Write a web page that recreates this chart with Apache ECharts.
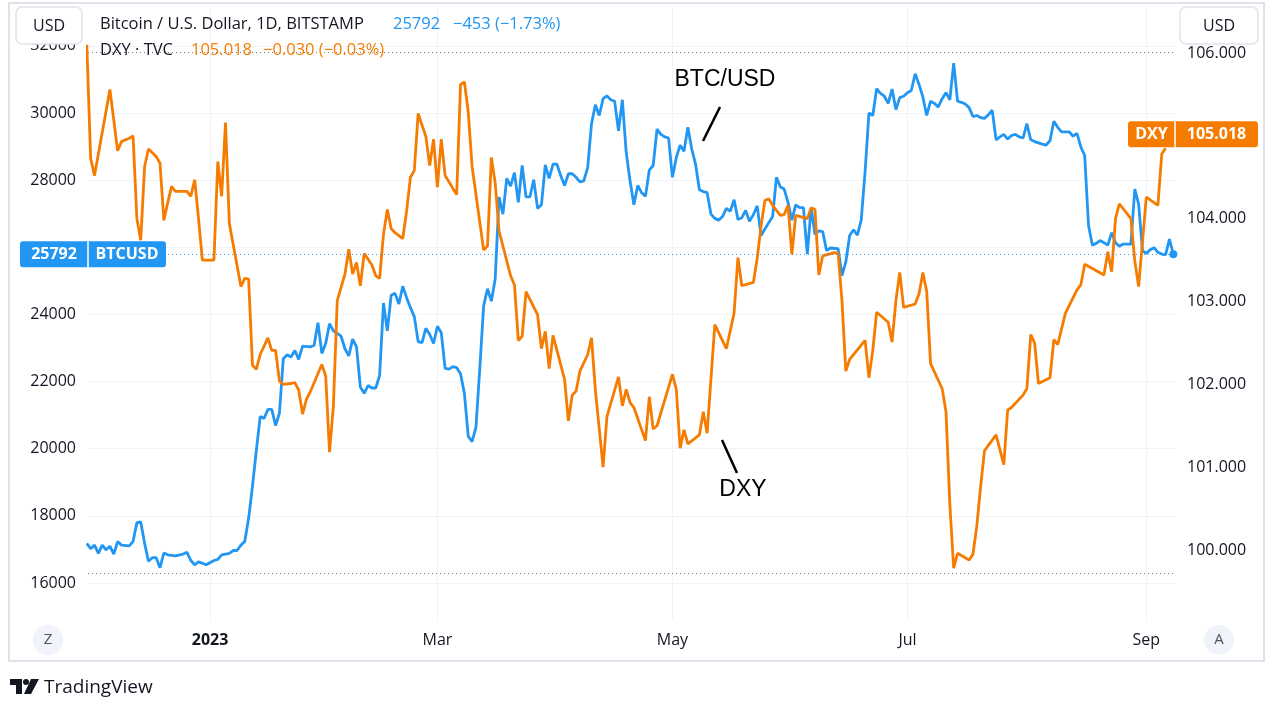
<!DOCTYPE html>
<html>
<head>
<meta charset="utf-8">
<script src="https://cdn.jsdelivr.net/npm/echarts@6/dist/echarts.min.js"></script>
<style>
html,body{margin:0;padding:0;background:#ffffff;}
#chart{width:1279px;height:714px;}
</style>
</head>
<body>
<div id="chart"></div>
<script>
// ---------- DATA ----------
// dates are given as day offsets from this day (negative = December 2022)
const DAY_ZERO = '2023-01-01';

const btcDay = [
  -32,-31,-30,-29,-28,-27,-26,-25,-24,-23,-21,-20,-19,-18,-17,-16,-15,-14,-13,-12,-11,-9,-7,-6,-5,-4,-3,-1,
  1,2,3,5,6,7,8,9,10,11,12,13,14,15,
  16,17,18,19,20,21,22,23,24,26,27,28,29,30,31,32,33,34,35,36,37,38,39,40,41,42,43,44,45,46,47,48,49,50,
  51,52,53,54,55,56,57,58,59,60,61,62,
  63,64,65,66,67,68,69,70,71,72,73,74,75,76,77,78,79,80,81,82,83,84,85,86,87,88,89,90,91,92,93,94,95,96,
  97,98,99,100,101,102,103,104,105,106,107,108,109,
  110,111,112,113,114,115,116,117,118,119,120,121,122,123,124,125,126,127,128,129,130,131,132,133,134,135,
  136,137,138,139,140,141,142,143,144,145,146,147,148,149,150,151,152,153,154,155,156,
  157,158,159,160,161,163,164,165,166,167,168,169,170,171,172,173,174,175,176,177,178,179,180,181,182,183,
  184,185,186,187,188,189,190,191,192,193,194,195,196,197,198,199,200,201,202,
  203,204,205,206,207,208,209,210,211,212,213,214,216,217,218,219,220,221,223,224,225,226,227,228,229,230,
  231,232,233,234,235,236,237,239,240,241,242,243,244,245,246,247,248,249,250
];
const btcClose = [
  17181,17021,17128,16883,17128,16990,17096,16862,17234,17128,17106,17234,17798,17819,17181,16649,16755,16755,16457,16894,16841,16809,16862,16915,16670,16543,16628,16543,
  16670,16702,16841,16883,16968,16968,17128,17234,17926,18883,19947,20957,20904,21170,
  21170,20691,21064,22681,22798,22734,22926,22660,23053,23032,23085,23755,22840,23138,23723,23511,23436,23351,22979,22766,23266,23032,21840,21649,21883,21809,21809,22181,24340,23511,24574,24628,24309,24840,
  24500,24202,23936,23192,23160,23585,23404,23138,23649,23457,22394,22372,
  22447,22415,22234,21649,20372,20213,20638,22394,24255,24766,24394,25053,27500,26989,28053,27819,28223,27340,28436,27500,27500,28011,27160,27266,28457,28053,28479,28479,28138,27840,28191,28191,28085,27947,
  27979,28372,29681,30245,29926,30426,30511,30394,30351,29468,30394,28830,27979,
  27266,27840,27628,27521,28298,28436,29521,29362,29287,29255,28085,28670,29043,28862,29574,28936,28479,27713,27660,27628,26989,26862,26809,26915,27160,27075,
  27415,26830,26883,27096,26777,26968,27234,26351,26543,26734,26915,28085,27798,27734,27340,26809,27266,27181,27181,25798,27181,
  26383,26490,26468,25904,25979,25957,25160,25564,26351,26521,26362,26809,28245,30000,29926,30723,30585,30500,30287,30713,30106,30458,30500,30606,30670,31170,
  30851,30479,29926,30351,30287,30181,30426,30606,30394,31489,30351,30319,30266,30160,29894,29926,29862,29840,29947,
  30085,29202,29287,29362,29223,29330,29362,29287,29255,29681,29202,29149,29075,29043,29181,29755,29574,29436,29436,29309,29394,28989,28734,26649,26064,26117,
  26202,26138,26064,26436,26138,26032,26096,26096,27734,27287,25904,25819,25926,25989,25851,25798,25777,26245,25792
];

const dxyDay = [
  -32,-31,-30,-26,-25,-24,-23,-21,-20,-19,-18,-17,-16,-14,-13,-12,-11,-10,-9,-6,-5,-4,-3,-2,
  1,2,3,4,5,8,9,10,11,12,13,15,16,17,18,19,21,22,23,24,25,26,27,29,30,
  31,32,33,35,36,37,38,39,40,42,43,44,45,46,47,48,50,51,52,53,54,56,57,58,
  59,60,61,64,65,66,67,68,71,72,73,74,75,78,79,80,81,82,85,86,87,88,89,
  92,93,94,95,96,98,99,100,102,103,106,107,108,109,110,113,114,115,116,
  120,121,122,123,124,127,128,129,131,134,136,137,138,141,142,143,144,145,146,148,149,150,
  151,152,155,156,157,158,159,162,163,164,165,166,170,171,172,173,176,177,178,179,180,
  183,184,185,186,187,190,191,192,193,194,197,198,199,200,201,204,206,207,208,211,
  212,213,214,215,218,219,220,222,225,226,227,232,233,234,235,236,239,240,241,
  243,246,247,248
];
const dxyClose = [
  106.10,104.73,104.52,105.56,105.19,104.82,104.93,104.97,105.00,104.00,103.74,104.63,104.84,104.75,104.67,103.98,104.19,104.39,104.33,104.33,104.27,104.47,104.00,103.50,
  103.50,104.69,104.27,105.16,103.94,103.18,103.28,103.27,102.23,102.18,102.36,102.56,102.41,102.41,102.04,102.00,102.01,102.02,101.93,101.64,101.82,101.91,102.02,102.24,102.10,
  101.18,101.74,103.01,103.33,103.63,103.33,103.47,103.19,103.58,103.44,103.31,103.28,103.81,104.11,103.88,103.83,103.76,104.09,104.50,104.58,105.27,104.99,104.64,104.96,
  104.38,104.96,104.52,104.29,105.62,105.65,105.29,104.63,103.62,103.67,104.74,104.43,103.85,103.31,103.20,102.53,102.58,103.12,102.84,102.43,102.64,102.19,102.59,
  102.06,101.56,101.87,101.92,102.16,102.36,102.56,101.93,101.00,101.61,102.09,101.74,101.94,101.78,101.72,101.32,101.85,101.46,101.50,
  102.12,101.94,101.23,101.45,101.28,101.39,101.67,101.41,102.72,102.43,102.86,103.53,103.19,103.23,103.52,103.91,104.22,104.24,104.16,104.04,104.05,104.16,
  103.57,104.04,104.00,104.13,104.11,103.32,103.55,103.59,103.58,103.01,102.16,102.30,102.53,102.08,102.41,102.87,102.75,102.51,103.01,103.35,102.93,
  102.97,103.09,103.35,103.12,102.25,101.95,101.67,100.55,99.78,99.96,99.88,99.95,100.29,100.77,101.20,101.39,101.03,101.69,101.72,101.87,
  101.95,102.60,102.50,102.01,102.08,102.54,102.48,102.86,103.14,103.20,103.45,103.32,103.60,103.36,104.00,104.18,104.00,103.49,103.18,
  104.26,104.16,104.78,104.85
];

const timeTickDates  = ['2023-01-01','2023-03-01','2023-05-01','2023-07-01','2023-09-01'];
const timeTickLabels = ['2023','Mar','May','Jul','Sep'];
const btcTicks = [16000,18000,20000,22000,24000,26000,28000,30000,32000];
const dxyTicks = [100,101,102,103,104,105,106];
// tick labels that sit under the price tags are hidden, as in the picture
const btcHiddenLabels = [26000];
const dxyHiddenLabels = [105];

const btcTitle = 'Bitcoin / U.S. Dollar, 1D, BITSTAMP';
const dxyTitle = 'DXY \u00b7 TVC';
const btcLast = 25792, btcChange = '\u2212453 (\u22121.73%)';
const dxyLast = 105.018, dxyChange = '\u22120.030 (\u22120.03%)';
const rangeHigh = 31800, rangeLow = 16290;   // dotted high / low lines (BTC scale)

// ---------- BUILD ----------
const DAYMS = 86400000;
const t0 = Date.parse(DAY_ZERO + 'T00:00:00Z');
const ts = d => t0 + d * DAYMS;
const btcData = btcDay.map((d, i) => [ts(d), btcClose[i]]);
const dxyData = dxyDay.map((d, i) => [ts(d), dxyClose[i]]);
const tickTs = timeTickDates.map(s => Date.parse(s + 'T00:00:00Z'));
const btcLabelVals = btcTicks.filter(v => btcHiddenLabels.indexOf(v) < 0);
const dxyLabelVals = dxyTicks.filter(v => dxyHiddenLabels.indexOf(v) < 0);

const BLUE = '#2196f3', ORANGE = '#f57c00', TXT = '#131722', GRID = '#f0f3fa';
const FONT = '"Open Sans", "Noto Sans", sans-serif';

const chart = echarts.init(document.getElementById('chart'), null, {renderer: 'canvas'});

function tickLabel(v) {
  let idx = 0, best = Infinity;
  tickTs.forEach((t, i) => { const dd = Math.abs(t - v); if (dd < best) { best = dd; idx = i; } });
  return idx === 0 ? '{y|' + timeTickLabels[idx] + '}' : timeTickLabels[idx];
}

chart.setOption({
  animation: false,
  backgroundColor: '#ffffff',
  textStyle: {fontFamily: FONT},
  grid: {left: 88, right: 103, top: 8, bottom: 94, containLabel: false},
  xAxis: {
    type: 'value',          // timestamps (ms, UTC)
    min: ts(-31.69),
    max: ts(250.7),
    axisLine: {show: false},
    axisTick: {show: false, customValues: tickTs},
    splitLine: {show: true, lineStyle: {color: GRID, width: 1}},
    axisLabel: {
      customValues: tickTs,
      margin: 12,
      color: TXT,
      fontSize: 16,
      fontFamily: FONT,
      formatter: tickLabel,
      rich: {y: {fontWeight: 'bold', fontSize: 16, color: TXT, fontFamily: FONT}}
    }
  },
  yAxis: [
    {
      type: 'value', position: 'left',
      min: 14898, max: 33128,
      axisLine: {show: false},
      axisTick: {show: false, customValues: btcTicks},
      splitLine: {show: true, lineStyle: {color: GRID, width: 1}},
      axisLabel: {customValues: btcLabelVals, margin: 12, color: TXT, fontSize: 16, fontFamily: FONT,
        formatter: v => String(Math.round(v))}
    },
    {
      type: 'value', position: 'right',
      min: 99.155, max: 106.543,
      axisLine: {show: false},
      axisTick: {show: false, customValues: dxyTicks},
      splitLine: {show: false},
      axisLabel: {customValues: dxyLabelVals, margin: 11, color: TXT, fontSize: 16, fontFamily: FONT,
        formatter: v => Number(v).toFixed(3)}
    }
  ],
  series: [
    {
      name: 'BTCUSD', type: 'line', xAxisIndex: 0, yAxisIndex: 0,
      data: btcData, showSymbol: false, symbol: 'none', smooth: false,
      lineStyle: {color: BLUE, width: 2.8}, itemStyle: {color: BLUE},
      z: 3,
      markLine: {
        silent: true, symbol: ['none', 'none'], label: {show: false},
        data: [
          {yAxis: btcLast, lineStyle: {color: BLUE, type: [1, 3], width: 1, opacity: 0.9}},
          {yAxis: rangeHigh, lineStyle: {color: '#787b86', type: [1, 3], width: 1}},
          {yAxis: rangeLow, lineStyle: {color: '#787b86', type: [1, 3], width: 1}}
        ]
      },
      markPoint: {
        silent: true, symbol: 'circle', symbolSize: 8, label: {show: false},
        itemStyle: {color: BLUE},
        data: [{coord: btcData[btcData.length - 1]}]
      }
    },
    {
      name: 'DXY', type: 'line', xAxisIndex: 0, yAxisIndex: 1,
      data: dxyData, showSymbol: false, symbol: 'none', smooth: false,
      lineStyle: {color: ORANGE, width: 2.8}, itemStyle: {color: ORANGE},
      z: 4
    }
  ]
});

// ---------- OVERLAY (labels, legend, annotations) ----------
const yBtc = chart.convertToPixel({yAxisIndex: 0}, btcLast);
const yDxy = chart.convertToPixel({yAxisIndex: 1}, dxyLast);
const white = '#ffffff';

function priceTag(x, w, divX, y, color, leftText, rightText) {
  return [
    {type: 'rect', shape: {x: x, y: y - 13, width: w, height: 26, r: 3}, style: {fill: color}, z: 100},
    {type: 'line', shape: {x1: divX, y1: y - 13, x2: divX, y2: y + 13}, style: {stroke: white, lineWidth: 1.5}, z: 101},
    {type: 'text', x: (x + divX) / 2, y: y, style: {text: leftText, fill: white, font: 'bold 16px ' + FONT, align: 'center', verticalAlign: 'middle'}, z: 102},
    {type: 'text', x: (divX + x + w) / 2, y: y, style: {text: rightText, fill: white, font: 'bold 16px ' + FONT, align: 'center', verticalAlign: 'middle'}, z: 102}
  ];
}
function legendText(x, y, text, color) {
  return {type: 'text', x: x, y: y, z: 101,
    style: {text: text, fill: color, font: '16.5px ' + FONT, verticalAlign: 'middle'}};
}

const g = [];
g.push({type: 'rect', shape: {x: 9, y: 3, width: 1255, height: 658}, style: {fill: 'none', stroke: '#e0e3eb', lineWidth: 2}, z: 90});
g.push({type: 'rect', shape: {x: 16, y: 7, width: 66, height: 37, r: 6}, style: {fill: white, stroke: '#e0e3eb', lineWidth: 1.5}, z: 100});
g.push({type: 'text', x: 49, y: 26, style: {text: 'USD', fill: TXT, font: '16px ' + FONT, align: 'center', verticalAlign: 'middle'}, z: 101});
g.push({type: 'rect', shape: {x: 1180, y: 7, width: 78, height: 37, r: 6}, style: {fill: white, stroke: '#e0e3eb', lineWidth: 1.5}, z: 100});
g.push({type: 'text', x: 1219, y: 26, style: {text: 'USD', fill: TXT, font: '16px ' + FONT, align: 'center', verticalAlign: 'middle'}, z: 101});
// legend (two rows)
g.push(legendText(100, 24, btcTitle, TXT));
g.push(legendText(393, 24, String(btcLast), BLUE));
g.push(legendText(453, 24, btcChange, BLUE));
g.push(legendText(100, 50, dxyTitle, TXT));
g.push(legendText(191, 50, dxyLast.toFixed(3), ORANGE));
g.push(legendText(263, 50, dxyChange, ORANGE));
// price tags on the axes
priceTag(20, 146, 88, yBtc, BLUE, String(btcLast), 'BTCUSD').forEach(e => g.push(e));
priceTag(1128, 130, 1175, yDxy, ORANGE, 'DXY', dxyLast.toFixed(3)).forEach(e => g.push(e));
// Z / A buttons
g.push({type: 'circle', shape: {cx: 48, cy: 640, r: 15}, style: {fill: '#f0f3fa'}, z: 100});
g.push({type: 'text', x: 48, y: 640, style: {text: 'Z', fill: '#50535e', font: '15px ' + FONT, align: 'center', verticalAlign: 'middle'}, z: 101});
g.push({type: 'circle', shape: {cx: 1219, cy: 640, r: 15}, style: {fill: '#f0f3fa'}, z: 100});
g.push({type: 'text', x: 1219, y: 640, style: {text: 'A', fill: '#50535e', font: '15px ' + FONT, align: 'center', verticalAlign: 'middle'}, z: 101});
// annotations
g.push({type: 'text', x: 725, y: 80, style: {text: 'BTC/USD', fill: '#000000', font: '23px "Liberation Sans", Arial, sans-serif', align: 'center', verticalAlign: 'middle'}, z: 101});
g.push({type: 'line', shape: {x1: 720, y1: 107, x2: 703, y2: 141}, style: {stroke: '#000000', lineWidth: 2.5}, z: 101});
g.push({type: 'text', x: 743, y: 490, style: {text: 'DXY', fill: '#000000', font: '23px "Liberation Sans", Arial, sans-serif', align: 'center', verticalAlign: 'middle'}, z: 101});
g.push({type: 'line', shape: {x1: 722, y1: 440, x2: 737, y2: 473}, style: {stroke: '#000000', lineWidth: 2.5}, z: 101});
// TradingView logo
g.push({type: 'polygon', shape: {points: [[10, 679], [22, 679], [22, 694], [16, 694], [16, 685], [10, 685]]}, style: {fill: TXT}, z: 101});
g.push({type: 'circle', shape: {cx: 26, cy: 682, r: 3}, style: {fill: TXT}, z: 101});
g.push({type: 'polygon', shape: {points: [[31, 679], [39, 679], [31, 694], [24, 694]]}, style: {fill: TXT}, z: 101});
g.push({type: 'text', x: 44, y: 688, style: {text: 'TradingView', fill: TXT, font: '19px ' + FONT, verticalAlign: 'middle'}, z: 101});

chart.setOption({graphic: g});
</script>
</body>
</html>
